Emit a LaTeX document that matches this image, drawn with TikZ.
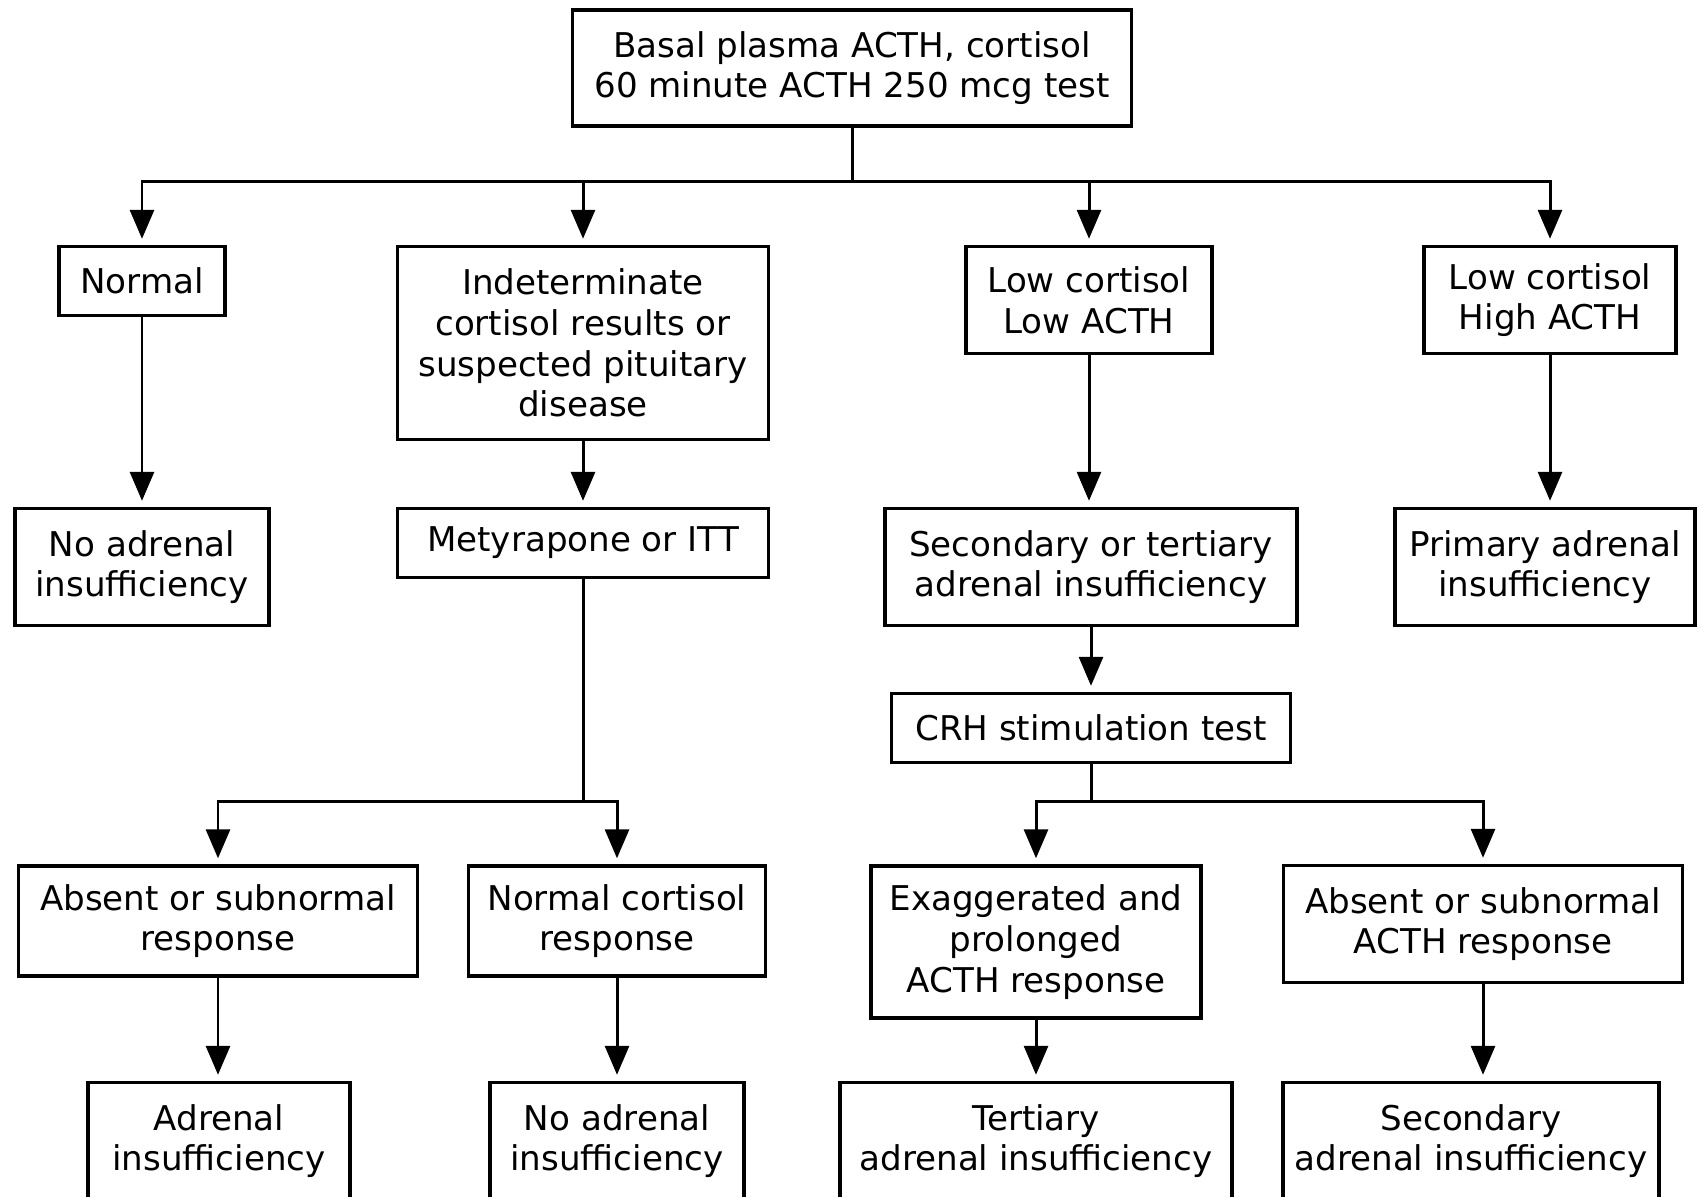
\documentclass[tikz,border=0pt]{standalone}
\usepackage{fontspec}
\setmainfont{DejaVu Sans}
\usetikzlibrary{arrows.meta}

\begin{document}
\begin{tikzpicture}[x=0.01cm,y=-0.01cm,
        box/.style={draw,line width=0.95pt,align=center,inner sep=0pt,font=\fontsize{9.7}{11.6}\selectfont},
        arr/.style={line width=0.85pt,-{Triangle[length=2.9mm,width=2.4mm]},shorten >=0.6mm}]
        \useasboundingbox (0,0) rectangle (1697,1196);
        \clip (0,0) rectangle (1697,1196);

        \node [box,minimum width=5.59cm,minimum height=1.16cm] (basal) at (852,68) {Basal plasma ACTH, cortisol\\60 minute ACTH 250 mcg test};

        \node [box,minimum width=1.66cm,minimum height=0.69cm] (normal) at (142,281) {Normal};
        \node [box,minimum width=3.71cm,minimum height=1.93cm] (indet) at (583,343) {Indeterminate\\cortisol results or\\suspected pituitary\\disease};
        \node [box,minimum width=2.46cm,minimum height=1.07cm] (lowlow) at (1089,300) {Low cortisol\\Low ACTH};
        \node [box,minimum width=2.52cm,minimum height=1.07cm] (lowhigh) at (1550,300) {Low cortisol\\High ACTH};

        \node [box,minimum width=2.54cm,minimum height=1.17cm] (noai) at (142,567) {No adrenal\\insufficiency};
        \node [box,minimum width=3.71cm,minimum height=0.69cm] (mety) at (583,543) {Metyrapone or ITT};
        \node [box,minimum width=4.12cm,minimum height=1.17cm] (secter) at (1091,567) {Secondary or tertiary\\adrenal insufficiency};
        \node [box,minimum width=3.00cm,minimum height=1.17cm] (primary) at (1545,567) {Primary adrenal\\insufficiency};

        \node [box,minimum width=3.99cm,minimum height=0.69cm] (crh) at (1091,728) {CRH stimulation test};

        \node [box,minimum width=3.99cm,minimum height=1.10cm] (absent) at (218,921) {Absent or subnormal\\response};
        \node [box,minimum width=2.97cm,minimum height=1.10cm] (normcort) at (617,921) {Normal cortisol\\response};
        \node [box,minimum width=3.30cm,minimum height=1.52cm] (exag) at (1036,942) {Exaggerated and\\prolonged\\ACTH response};
        \node [box,minimum width=3.99cm,minimum height=1.17cm] (absacth) at (1483,924) {Absent or subnormal\\ACTH response};

        \node [box,minimum width=2.62cm,minimum height=1.17cm] (adrins) at (219,1141) {Adrenal\\insufficiency};
        \node [box,minimum width=2.54cm,minimum height=1.17cm] (noaitwo) at (617,1141) {No adrenal\\insufficiency};
        \node [box,minimum width=3.92cm,minimum height=1.17cm] (tert) at (1036,1141) {Tertiary\\adrenal insufficiency};
        \node [box,minimum width=3.76cm,minimum height=1.17cm] (second) at (1471,1141) {Secondary\\adrenal insufficiency};

        \coordinate (forka) at (852,181);
        \coordinate (forkb) at (583,801);
        \coordinate (forkc) at (1092,801);

        \foreach \n in {normal,indet,lowlow,lowhigh}
            \draw [arr] (basal.south) |- (forka -| \n.north) -- (\n.north);
        \foreach \n in {absent,normcort}
            \draw [arr] (mety.south) |- (forkb -| \n.north) -- (\n.north);
        \foreach \n in {exag,absacth}
            \draw [arr] (crh.south) |- (forkc -| \n.north) -- (\n.north);

        \draw [arr] (normal.south)--(normal.south |- noai.north);
        \draw [arr] (indet.south)--(indet.south |- mety.north);
        \draw [arr] (lowlow.south)--(lowlow.south |- secter.north);
        \draw [arr] (lowhigh.south)--(lowhigh.south |- primary.north);
        \draw [arr] (secter.south)--(secter.south |- crh.north);
        \draw [arr] (absent.south)--(absent.south |- adrins.north);
        \draw [arr] (normcort.south)--(normcort.south |- noaitwo.north);
        \draw [arr] (exag.south)--(exag.south |- tert.north);
        \draw [arr] (absacth.south)--(absacth.south |- second.north);
    \end{tikzpicture}
\end{document}
